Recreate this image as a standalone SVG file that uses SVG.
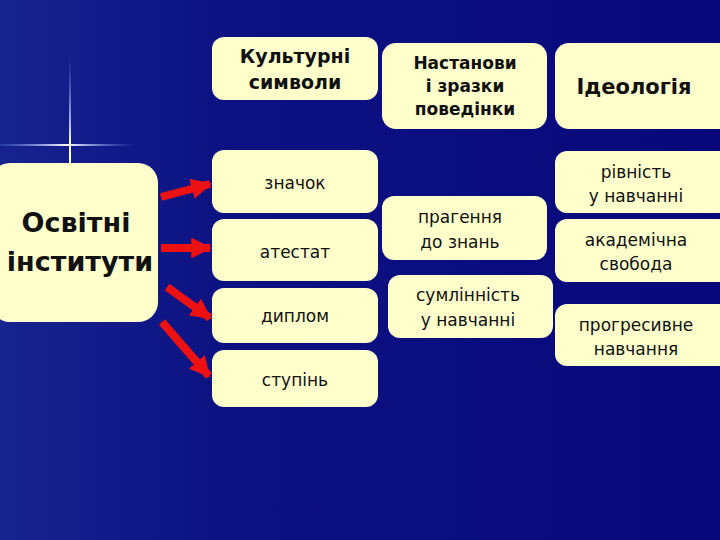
<svg xmlns="http://www.w3.org/2000/svg" width="720" height="540" viewBox="0 0 720 540">
<defs>
<linearGradient id="bg" x1="0" y1="0" x2="1" y2="0">
<stop offset="0" stop-color="#17238f"/><stop offset="0.3" stop-color="#0c1282"/><stop offset="1" stop-color="#08087a"/>
</linearGradient>
<linearGradient id="vl" x1="0" y1="0" x2="0" y2="1">
<stop offset="0" stop-color="#6f8fff" stop-opacity="0"/><stop offset="0.8" stop-color="#ffffff"/><stop offset="1" stop-color="#ffffff"/>
</linearGradient>
<linearGradient id="hl" x1="0" y1="0" x2="1" y2="0">
<stop offset="0" stop-color="#6f8fff" stop-opacity="0.2"/><stop offset="0.5" stop-color="#ffffff"/><stop offset="1" stop-color="#6f8fff" stop-opacity="0"/>
</linearGradient>
<marker id="ah" viewBox="0 0 10 10" refX="9" refY="5" markerWidth="2.6" markerHeight="2.6" orient="auto" markerUnits="strokeWidth">
<path d="M0,0 L10,5 L0,10 z" fill="#ee1111"/>
</marker>
<style>
.b{fill:#ffffcc}
.t{font-family:"DejaVu Sans",sans-serif;font-size:17px;fill:#111;text-anchor:middle}
.h{font-family:"DejaVu Sans",sans-serif;font-size:19px;font-weight:bold;fill:#111;text-anchor:middle}
.a{stroke:#ee1111;stroke-width:8;fill:none;marker-end:url(#ah)}
</style>
</defs>
<rect width="720" height="540" fill="url(#bg)"/>
<rect x="69" y="55" width="2" height="110" fill="url(#vl)"/>
<rect x="0" y="144" width="135" height="2" fill="url(#hl)"/>
<g id="n-osv"><rect class="b" x="-10" y="163" width="168" height="159" rx="20"/>
<text class="h" x="76" y="232" style="font-size:27px">Освітні</text><text class="h" x="80" y="271" style="font-size:27px">інститути</text></g>
<g id="n-kult"><rect class="b" x="212" y="37" width="166" height="63" rx="12"/><text class="h" x="295" y="63">Культурні</text><text class="h" x="295" y="89">символи</text></g>
<g id="n-znach"><rect class="b" x="212" y="150" width="166" height="63" rx="12"/><text class="t" x="295" y="189">значок</text></g>
<g id="n-atest"><rect class="b" x="212" y="219" width="166" height="62" rx="12"/><text class="t" x="295" y="258">атестат</text></g>
<g id="n-dypl"><rect class="b" x="212" y="288" width="166" height="55" rx="12"/><text class="t" x="295" y="322">диплом</text></g>
<g id="n-stup"><rect class="b" x="212" y="350" width="166" height="57" rx="12"/><text class="t" x="295" y="386">ступінь</text></g>
<g id="n-nast"><rect class="b" x="382" y="43" width="165" height="86" rx="14"/>
<text class="h" x="465" y="69" style="font-size:17px">Настанови</text><text class="h" x="465" y="92" style="font-size:17px">і зразки</text><text class="h" x="465" y="115" style="font-size:17px">поведінки</text></g>
<g id="n-prag"><rect class="b" x="382" y="196" width="165" height="64" rx="12"/><text class="t" x="460" y="223">прагення</text><text class="t" x="460" y="248">до знань</text></g>
<g id="n-suml"><rect class="b" x="388" y="275" width="165" height="63" rx="12"/><text class="t" x="468" y="301">сумлінність</text><text class="t" x="468" y="326">у навчанні</text></g>
<g id="n-ideo"><rect class="b" x="555" y="43" width="180" height="86" rx="14"/><text class="h" x="634" y="94" style="font-size:21px">Ідеологія</text></g>
<g id="n-rivn"><rect class="b" x="555" y="151" width="180" height="62" rx="12"/><text class="t" x="636" y="178">рівність</text><text class="t" x="636" y="202">у навчанні</text></g>
<g id="n-akad"><rect class="b" x="555" y="219" width="180" height="63" rx="12"/><text class="t" x="636" y="246">академічна</text><text class="t" x="636" y="270">свобода</text></g>
<g id="n-progr"><rect class="b" x="555" y="304" width="180" height="62" rx="12"/><text class="t" x="636" y="331">прогресивне</text><text class="t" x="636" y="355">навчання</text></g>
<g id="connectors">
<line class="a" x1="161" y1="197" x2="210" y2="184"/>
<line class="a" x1="161" y1="248" x2="210" y2="248"/>
<line class="a" x1="167" y1="287" x2="210" y2="318"/>
<line class="a" x1="162" y1="322" x2="209" y2="376"/>
</g>
</svg>
